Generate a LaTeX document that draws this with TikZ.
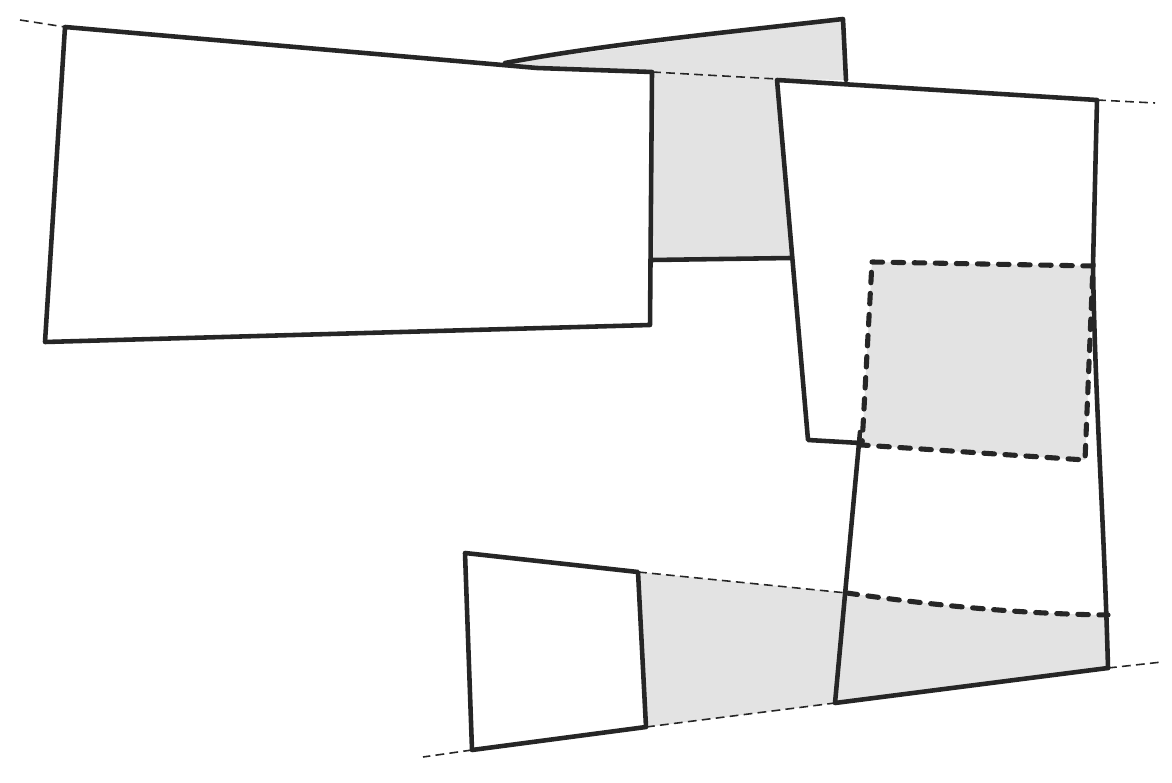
\documentclass[tikz,border=0pt]{standalone}
\begin{document}
\begin{tikzpicture}[x=0.02cm,y=-0.02cm,
  ink/.style={draw=black!85,line width=2.6pt,line join=round,line cap=round},
  guide/.style={draw=black!85,line width=0.9pt,dash pattern=on 5pt off 3pt},
  thickdash/.style={draw=black!85,line width=2.9pt,line cap=round,dash pattern=on 6pt off 6pt},
  shade/.style={fill=black!11,draw=none}]
\useasboundingbox (0,0) rectangle (1172,783);
% grey fills
\fill[shade] (505,63) -- (843,19) -- (846,80) -- (777,79) -- (791,258) -- (652,260) -- (652,72) -- (537,68) -- cycle;
\fill[shade] (872,262) -- (1093,266) -- (1085,460) -- (862,445) -- cycle;
\fill[shade] (638,572) -- (847,593) .. controls (930,605) and (1020,614) .. (1108,615) -- (1108,668) -- (835,703) -- (646,727) -- cycle;
% left rectangle
\draw[ink] (65,27) -- (537,68) -- (652,72) -- (650,325) -- (45,342) -- cycle;
\draw[guide] (20,20) -- (65,27);
% top wedge
\draw[ink] (505,63) .. controls (600,45) and (720,33) .. (843,19) -- (846,80);
\draw[guide] (652,72) -- (777,79);
\draw[ink] (652,260) -- (791,258);
% right rectangle
\draw[ink] (860,443) -- (808,440) -- (777,80) -- (1097,100) -- (1093,265) .. controls (1095,400) and (1104,520) .. (1108,668);
\draw[guide] (1097,100) -- (1155,103);
% dashed square
\draw[thickdash] (872,262) -- (1093,266) -- (1085,460) -- (862,445) -- cycle;
% lower rectangle
\draw[ink] (860,432) -- (835,703) -- (1108,668);
\draw[guide] (1108,668) -- (1162,662);
\draw[thickdash] (847,593) .. controls (930,605) and (1020,614) .. (1108,615);
% small rectangle
\draw[guide] (638,572) -- (847,593);
\draw[guide] (646,727) -- (835,703);
\draw[ink] (465,553) -- (638,572) -- (646,727) -- (472,750) -- cycle;
\draw[guide] (472,750) -- (423,757);
\end{tikzpicture}
\end{document}
